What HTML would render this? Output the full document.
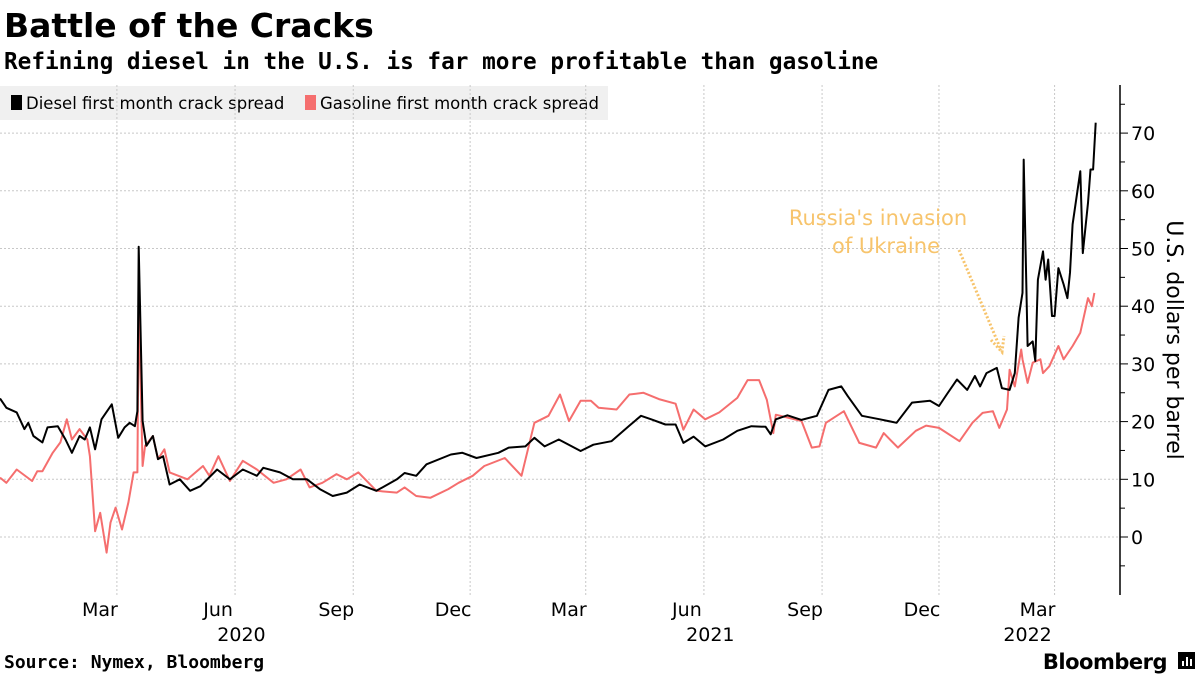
<!DOCTYPE html>
<html><head><meta charset="utf-8"><style>
body{margin:0;background:#fff;font-family:"Liberation Sans","DejaVu Sans",sans-serif}
#wrap{position:relative;width:1200px;height:675px;overflow:hidden}
</style></head><body>
<div id="wrap">
<svg id="chart" width="1200" height="675">
<text x="4" y="37" font-size="33" font-weight="bold" fill="#000" font-family="DejaVu Sans, sans-serif">Battle of the Cracks</text>
<text x="4" y="69" font-size="22.7" font-weight="bold" fill="#000" font-family="DejaVu Sans Mono, Liberation Mono, monospace">Refining diesel in the U.S. is far more profitable than gasoline</text>
<g>
<rect x="0" y="86" width="608" height="34" fill="#f0f0f0"/>
<g><rect x="11" y="95" width="11" height="15" fill="#000"/><text x="26" y="109" font-size="16.5" font-family="DejaVu Sans, sans-serif">Diesel first month crack spread</text></g>
<g><rect x="305" y="95" width="11" height="15" fill="#f56e6e"/><text x="320" y="109" font-size="16.5" font-family="DejaVu Sans, sans-serif">Gasoline first month crack spread</text></g>
</g>
<g id="grid"></g>
<g id="axes"></g>
<g id="series"></g>
<g>
<text x="878" y="225" font-size="21" fill="#f7c46c" text-anchor="middle" font-family="DejaVu Sans, sans-serif">Russia's invasion</text>
<text x="886" y="253" font-size="21" fill="#f7c46c" text-anchor="middle" font-family="DejaVu Sans, sans-serif">of Ukraine</text>
<line x1="959" y1="250" x2="1001" y2="350" stroke="#f7c46c" stroke-width="3" stroke-dasharray="2,2"/>
<path d="M991 340 L1002 352 L1004 336" fill="none" stroke="#f7c46c" stroke-width="3" stroke-dasharray="2,2"/>
</g>
<text transform="translate(1167,340) rotate(90)" font-size="22" text-anchor="middle" font-family="DejaVu Sans, sans-serif">U.S. dollars per barrel</text>
<text x="4" y="668" font-size="18" font-weight="bold" font-family="DejaVu Sans Mono, Liberation Mono, monospace">Source: Nymex, Bloomberg</text>
<g><text x="1167" y="669" font-size="21" font-weight="bold" text-anchor="end" font-family="DejaVu Sans, sans-serif" letter-spacing="-0.5">Bloomberg</text><rect x="1178" y="652" width="17" height="17" fill="#000"/><rect x="1182" y="661" width="2" height="5" fill="#fff"/><rect x="1186" y="657" width="2" height="9" fill="#fff"/><rect x="1190" y="659" width="2" height="7" fill="#fff"/></g>
</svg>
</div>
<script>
const yTicks=[0,10,20,30,40,50,60,70];
const monthLabels=["Mar","Jun","Sep","Dec","Mar","Jun","Sep","Dec","Mar"];
const monthDays=[91,183,275,366,456,548,640,731,821];
const yearLabels=["2020","2021","2022"];
const yearDays=[188,553,800];
const dieselDays=[0,5,13,19,22,26,33,37,45,51,56,62,66,70,74,79,87,92,97,101,105,107,108,111,114,119,123,127,132,140,148,156,169,179,189,200,205,218,228,239,249,259,270,280,293,309,315,324,332,351,360,371,388,396,409,416,424,435,452,462,476,490,499,507,518,526,532,540,549,563,574,585,596,600,604,613,624,636,645,655,660,671,685,698,710,724,731,737,745,753,759,763,768,776,780,786,790,793,796,797,800,804,806,808,812,814,816,819,821,824,828,831,833,835,841,843,847,849,851,853];
const dieselValues=[24.0,22.4,21.6,18.7,19.8,17.5,16.4,19.0,19.2,16.9,14.6,17.5,16.9,19.0,15.2,20.4,23.0,17.2,19.0,19.8,19.2,21.8,50.3,20.1,15.8,17.5,13.5,14.0,9.1,10.0,8.0,8.8,11.7,10.0,11.7,10.6,12.0,11.2,10.0,10.0,8.3,7.1,7.7,9.1,8.0,10.0,11.1,10.6,12.6,14.3,14.6,13.7,14.6,15.5,15.7,17.2,15.7,16.9,14.9,16.0,16.6,19.3,21.0,20.4,19.5,19.5,16.3,17.4,15.7,16.9,18.4,19.2,19.1,17.8,20.4,21.1,20.3,21.0,25.5,26.1,24.4,21.0,20.4,19.8,23.3,23.6,22.7,24.7,27.3,25.5,27.9,26.1,28.4,29.3,25.8,25.5,28.4,38.0,42.3,65.4,33.1,33.9,30.5,44.6,49.5,44.6,48.1,38.3,38.3,46.6,43.8,41.4,45.8,54.2,63.4,49.2,57.9,63.7,63.7,71.8];
const gasDays=[0,5,13,25,29,33,41,47,52,56,62,68,70,74,78,83,86,90,95,100,104,107,108,111,113,119,123,128,132,146,158,163,170,179,189,200,213,223,234,241,251,262,270,279,293,309,315,324,335,349,357,368,377,393,406,416,427,436,443,452,460,466,480,490,501,513,526,532,540,549,560,574,582,591,597,602,604,624,632,638,643,657,669,682,688,699,713,721,731,747,757,765,773,778,784,786,790,795,796,800,804,810,812,817,824,828,835,841,847,850,852];
const gasValues=[10.3,9.4,11.7,9.7,11.4,11.4,14.6,16.4,20.4,16.9,18.7,16.9,14.0,1.0,4.2,-2.7,2.5,5.1,1.3,6.0,11.2,11.2,41.2,12.3,15.8,17.5,13.5,15.2,11.2,10.0,12.3,10.6,14.0,9.7,13.2,11.7,9.4,10.0,11.7,8.6,9.4,10.9,10.0,11.2,8.0,7.7,8.6,7.1,6.8,8.3,9.4,10.6,12.3,13.7,10.6,19.8,21.0,24.7,20.1,23.6,23.6,22.4,22.1,24.7,25.0,23.9,23.1,18.6,22.1,20.4,21.6,24.1,27.2,27.2,23.8,18.0,21.2,20.1,15.5,15.7,19.8,21.8,16.3,15.5,18.0,15.5,18.4,19.3,18.9,16.6,19.8,21.5,21.8,18.9,22.1,29.0,26.1,32.5,30.8,26.7,30.2,30.8,28.4,29.6,33.1,30.8,33.1,35.4,41.4,40.0,42.3];

const NS="http://www.w3.org/2000/svg";
const X=d=>d*1.2845;
const Y=v=>537-5.77*v;
function mk(tag,attrs,parent){const e=document.createElementNS(NS,tag);for(const k in attrs)e.setAttribute(k,attrs[k]);parent.appendChild(e);return e;}
const grid=document.getElementById('grid'),axes=document.getElementById('axes'),series=document.getElementById('series');
yTicks.forEach(v=>{
  const g=mk('line',{x1:0,x2:1120,y1:Y(v),y2:Y(v),stroke:'#c8c8c8','stroke-dasharray':'2,2'},grid);
  
  
  const t=mk('line',{x1:1120,x2:1128,y1:Y(v),y2:Y(v),stroke:'#000'},axes);
  
  
  const l=mk('text',{x:1131,y:Y(v)+7,'font-size':19,'font-family':'DejaVu Sans, sans-serif'},axes);
  l.textContent=v;
  
  
});
for(let v=-5;v<=75;v+=10){const m=mk('line',{x1:1120,x2:1125,y1:Y(v),y2:Y(v),stroke:'#000'},axes);
  
  }
const ax=mk('line',{x1:1120,x2:1120,y1:85,y2:595,stroke:'#000','stroke-width':1.5},axes);


monthDays.forEach((d,i)=>{
  const g=mk('line',{x1:X(d),x2:X(d),y1:85,y2:595,stroke:'#c8c8c8','stroke-dasharray':'2,2'},grid);
  
  
  const l=mk('text',{x:X(d)-17,y:616,'font-size':19,'text-anchor':'middle','font-family':'DejaVu Sans, sans-serif'},axes);
  l.textContent=monthLabels[i];
  
  
});
yearDays.forEach((d,i)=>{
  const l=mk('text',{x:X(d),y:641,'font-size':19,'text-anchor':'middle','font-family':'DejaVu Sans, sans-serif'},axes);
  l.textContent=yearLabels[i];
  
  
});
function line(days,vals,color,name){
  const d=days.map((dd,i)=>(i?'L':'M')+X(dd).toFixed(1)+' '+Y(vals[i]).toFixed(1)).join(' ');
  const p=mk('path',{d:d,fill:'none',stroke:color,'stroke-width':2,'stroke-linejoin':'round'},series);
  
  
}
line(gasDays,gasValues,'#f56e6e','gasoline-line');
line(dieselDays,dieselValues,'#000','diesel-line');
</script>
</body></html>
